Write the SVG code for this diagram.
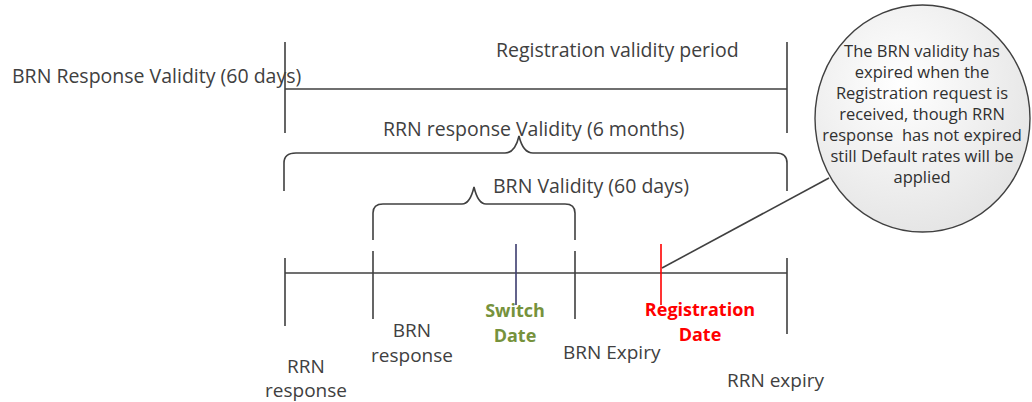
<svg xmlns="http://www.w3.org/2000/svg" width="1032" height="402" viewBox="0 0 1032 402">
<defs>
<radialGradient id="cg" cx="0.4" cy="0.35" r="0.75">
<stop offset="0" stop-color="#ffffff"/>
<stop offset="1" stop-color="#e2e2e2"/>
</radialGradient>
</defs>
<style>
.ln{stroke:#404040;stroke-width:1.6;fill:none}
.t{font-family:"Open Sans","Noto Sans",sans-serif;font-size:19.5px;fill:#404040}
.s{font-size:19px}
.tc{text-anchor:middle}
.b{font-weight:bold;font-size:18px}
.c{font-family:"Open Sans","Noto Sans",sans-serif;font-size:16.5px;fill:#303030;text-anchor:middle}
</style>
<rect width="1032" height="402" fill="#ffffff"/>
<g id="connectors">
<path class="ln" d="M285 42V133M787 42V133M285 89H787"/>
<path class="ln" d="M284 191V163Q284 153 296 153H505Q515 153 519 136Q523 153 533 153H776Q787 153 787 163V191"/>
<path class="ln" d="M373 240V213Q373 204 383 204H462Q470 204 474 187Q478 204 486 204H565Q575 204 575 213V240"/>
<path class="ln" d="M285 273H787"/>
<path class="ln" d="M285 258V326M373 251V319M575 251V319M787 258V334"/>
<path d="M516 244V305" stroke="#3c3c6e" stroke-width="1.6"/>
<path d="M661 244V305" stroke="#ff0000" stroke-width="1.6"/>
<path class="ln" d="M662 268L829 178" stroke-width="1.2"/>
</g>
<g id="callout">
<ellipse cx="922.5" cy="118.5" rx="107.5" ry="113.5" fill="url(#cg)" stroke="#404040" stroke-width="1.4"/>
<text class="c" xml:space="preserve"><tspan x="922" y="57">The BRN validity has</tspan><tspan x="922" y="78">expired when the</tspan><tspan x="922" y="99">Registration request is</tspan><tspan x="922" y="120">received, though RRN</tspan><tspan x="922" y="141">response  has not expired</tspan><tspan x="922" y="162">still Default rates will be</tspan><tspan x="922" y="183">applied</tspan></text>
</g>
<g id="labels-top">
<text class="t" x="12" y="83">BRN Response Validity (60 days)</text>
<text class="t" x="496" y="57">Registration validity period</text>
<text class="t" x="383" y="136">RRN response Validity (6 months)</text>
<text class="t" x="493" y="193">BRN Validity (60 days)</text>
</g>
<g id="rrn-response"><text class="t s tc"><tspan x="306" y="373">RRN</tspan><tspan x="306" y="397">response</tspan></text></g>
<g id="brn-response"><text class="t s tc"><tspan x="412" y="337">BRN</tspan><tspan x="412" y="362">response</tspan></text></g>
<g id="switch-date"><text class="t tc b" style="fill:#76923c"><tspan x="515" y="317">Switch</tspan><tspan x="515" y="342">Date</tspan></text></g>
<g id="brn-expiry"><text class="t s" x="563" y="359">BRN Expiry</text></g>
<g id="registration-date"><text class="t tc b" style="fill:#ff0000"><tspan x="700" y="316">Registration</tspan><tspan x="700" y="341">Date</tspan></text></g>
<g id="rrn-expiry"><text class="t s" x="727" y="387">RRN expiry</text></g>
</svg>
